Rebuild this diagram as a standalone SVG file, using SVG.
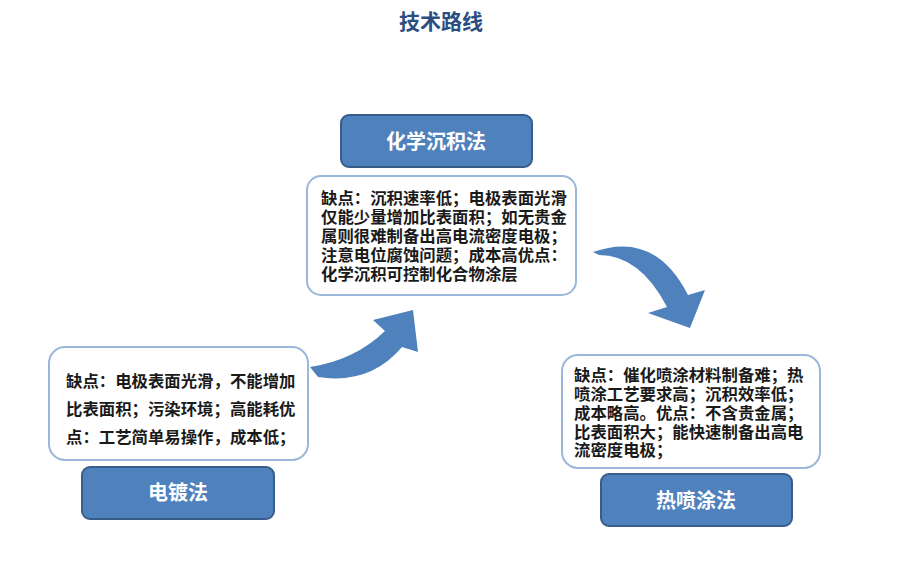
<svg xmlns="http://www.w3.org/2000/svg" width="900" height="582" viewBox="0 0 900 582">
<style>
.title{font-family:"Liberation Sans","Noto Sans CJK SC",sans-serif;font-size:21px;font-weight:bold;fill:#2c4d80;text-anchor:middle}
.btn{fill:#4f81bd;stroke:#385d8a;stroke-width:2}
.btxt{font-family:"Liberation Sans","Noto Sans CJK SC",sans-serif;font-size:20px;font-weight:bold;fill:#ffffff;text-anchor:middle}
.box{fill:#ffffff;stroke:#9bb7da;stroke-width:2}
.txt{font-family:"Liberation Sans","Noto Sans CJK SC",sans-serif;font-size:16.4px;font-weight:bold;fill:#1a1a1a}
.arrow{fill:#4f81bd}
</style>
<rect width="900" height="582" fill="#ffffff"/>
<text class="title" x="441" y="29">技术路线</text>

<g id="connectors">
<path class="arrow" d="M310,367 Q355,360 385,331 L373,320 L413,310 L418,352 L402,347 Q370,385 318,377 Z"/>
<path class="arrow" d="M593,252 Q655,230 688,295 L705,290 L690,328 L648,313 L667,307 Q640,255 599,255 Z"/>
</g>

<g id="node-chem">
<rect class="btn" x="341" y="115" width="191" height="52" rx="8"/>
<text class="btxt" x="436" y="149">化学沉积法</text>
</g>
<g id="note-chem">
<rect class="box" x="307" y="176" width="269" height="119" rx="14"/>
<text class="txt" x="321" y="204">缺点：沉积速率低；电极表面光滑</text>
<text class="txt" x="321" y="223">仅能少量增加比表面积；如无贵金</text>
<text class="txt" x="321" y="242">属则很难制备出高电流密度电极；</text>
<text class="txt" x="321" y="261">注意电位腐蚀问题；成本高优点：</text>
<text class="txt" x="321" y="280">化学沉积可控制化合物涂层</text>
</g>

<g id="note-plating">
<rect class="box" x="49" y="347" width="259" height="113" rx="16"/>
<text class="txt" x="66" y="387">缺点：电极表面光滑，不能增加</text>
<text class="txt" x="66" y="415">比表面积；污染环境；高能耗优</text>
<text class="txt" x="66" y="443">点：工艺简单易操作，成本低；</text>
</g>
<g id="node-plating">
<rect class="btn" x="82" y="467" width="192" height="52" rx="8"/>
<text class="btxt" x="178" y="500">电镀法</text>
</g>

<g id="note-spray">
<rect class="box" x="562" y="355" width="258" height="113" rx="16"/>
<text class="txt" x="574" y="381">缺点：催化喷涂材料制备难；热</text>
<text class="txt" x="574" y="400">喷涂工艺要求高；沉积效率低；</text>
<text class="txt" x="574" y="419">成本略高。优点：不含贵金属；</text>
<text class="txt" x="574" y="438">比表面积大；能快速制备出高电</text>
<text class="txt" x="574" y="456">流密度电极；</text>
</g>
<g id="node-spray">
<rect class="btn" x="601" y="474" width="191" height="52" rx="8"/>
<text class="btxt" x="696" y="508">热喷涂法</text>
</g>
</svg>
